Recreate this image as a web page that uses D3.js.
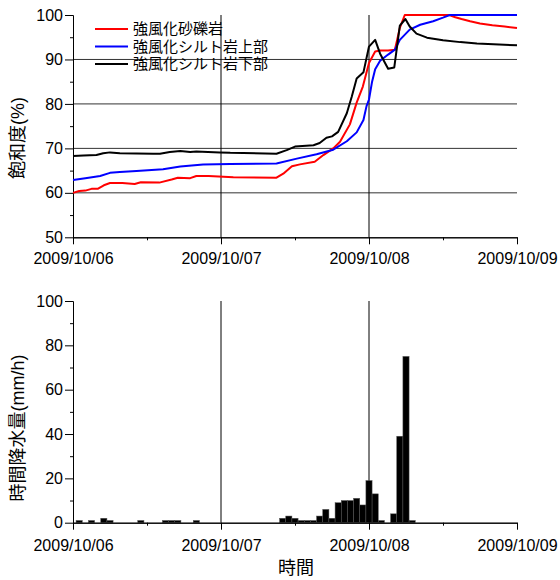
<!DOCTYPE html>
<html><head><meta charset="utf-8">
<script src="https://cdn.jsdelivr.net/npm/d3@7"></script>
<style>
body{margin:0;background:#fff}
text{font-family:"Liberation Sans",Arial,"Noto Sans CJK JP",sans-serif;fill:#000}
</style></head><body>
<svg id="chart" width="560" height="580"></svg>
<script>
// Day tick labels along both time axes
const dayLabels = ["2009/10/06", "2009/10/07", "2009/10/08", "2009/10/09"];
const saturationTicks = [50, 60, 70, 80, 90, 100];
const rainTicks = [0, 20, 40, 60, 80, 100];

// Legend names
const seriesNames = ["強風化砂礫岩", "強風化シルト岩上部", "強風化シルト岩下部"];

// Saturation (%) of each layer; hours counted from 2009/10/06 00:00
const gravelHours  = [0, 1, 2, 3, 4, 5, 6, 8, 10, 11, 14, 16, 17, 19, 20, 22, 26, 33, 34.1, 35.5, 36.8, 39.2, 40.6, 42.2, 43.3, 44.9, 46, 47, 48, 49, 49.8, 51.1, 52.2, 53, 53.8, 61, 62, 63, 64.4, 66, 68, 70, 72];
const gravelValues = [60.0, 60.4, 60.5, 60.9, 60.9, 61.7, 62.2, 62.2, 62.0, 62.4, 62.3, 63.0, 63.4, 63.3, 63.8, 63.8, 63.5, 63.4, 64.3, 66.0, 66.4, 67.0, 68.5, 70.0, 71.5, 75.4, 80.3, 83.9, 89.2, 91.8, 92.0, 92.0, 92.2, 97.1, 100, 100, 99.5, 99.1, 98.6, 98.1, 97.7, 97.4, 97.1];

const upperSiltHours  = [0, 2, 4.4, 6, 7.6, 10.3, 14.6, 17.4, 21.1, 25.5, 33, 36.3, 39.5, 42.2, 44.4, 46, 47.1, 47.6, 48, 48.5, 49, 49.8, 51.1, 52.2, 53, 54.6, 56.3, 58.4, 60, 61.1, 72];
const upperSiltValues = [62.9, 63.3, 63.8, 64.5, 64.7, 64.9, 65.3, 65.9, 66.4, 66.5, 66.6, 67.7, 68.7, 69.7, 71.6, 73.6, 76.4, 79.5, 81.0, 85.0, 87.8, 89.7, 91.1, 92.2, 94.4, 96.7, 97.8, 98.6, 99.4, 100, 100];

const lowerSiltHours  = [0, 1.7, 3.8, 4.9, 6, 7.6, 13, 14.1, 15.7, 17.4, 19, 20, 23.8, 25.5, 33, 34.65, 36, 39, 40, 41.1, 42, 43, 44.4, 45.2, 46, 47.1, 48, 49, 49.8, 51.1, 52.1, 53, 53.9, 54.6, 55.7, 57.4, 60, 62.8, 65.5, 68.2, 72];
const lowerSiltValues = [68.3, 68.4, 68.5, 68.9, 69.1, 68.9, 68.8, 68.8, 69.2, 69.4, 69.2, 69.3, 69.1, 69.0, 68.8, 69.6, 70.4, 70.7, 71.2, 72.4, 72.7, 73.7, 77.9, 81.6, 85.7, 87.1, 92.9, 94.4, 91.3, 87.9, 88.2, 97.6, 99.1, 97.4, 95.8, 94.9, 94.3, 93.9, 93.6, 93.4, 93.2];

// Hourly rainfall (mm/h); each bar is centred on its hour
const rainHours  = [1, 3, 5, 6, 11, 15, 16, 17, 20, 34, 35, 36, 37, 38, 39, 40, 41, 42, 43, 44, 45, 46, 47, 48, 49, 50, 52, 53, 54, 55];
const rainValues = [1, 1, 2, 1, 1, 1, 1, 1, 1, 2, 3, 2, 1, 1, 1, 3, 6, 2, 9, 10, 10, 11, 8, 19, 13, 1, 4, 39, 75, 1];

const start = new Date(2009, 9, 6);
const atHour = h => new Date(start.getTime() + h * 3600e3);
const dayDates = dayLabels.map((_, i) => atHour(i * 24));
const noonDates = [0, 1, 2].map(i => atHour(i * 24 + 12));

const svg = d3.select("#chart");
const x = d3.scaleTime().domain([atHour(0), atHour(72)]).range([73, 517]);

const ySat = d3.scaleLinear().domain([50, 100]).range([237.3, 15]);
const yRain = d3.scaleLinear().domain([0, 100]).range([522.7, 301]);

function styleAxis(g) {
  g.selectAll("path.domain").attr("stroke", "#000").attr("stroke-width", 1);
  g.selectAll(".tick line").attr("stroke", "#000");
  g.selectAll(".tick text").style("font-size", "16px").attr("fill", "#000");
}

// ---------- upper panel: degree of saturation ----------
const upper = svg.append("g");

upper.append("g").selectAll("line").data([60, 70, 80, 90]).join("line")
  .attr("x1", x.range()[0]).attr("x2", x.range()[1])
  .attr("y1", d => ySat(d)).attr("y2", d => ySat(d))
  .attr("stroke", "#333").attr("stroke-width", 1);

upper.append("g").selectAll("line").data(dayDates.slice(1, 3)).join("line")
  .attr("x1", d => x(d)).attr("x2", d => x(d))
  .attr("y1", ySat(100)).attr("y2", ySat(50))
  .attr("stroke", "#000");

upper.append("g").attr("transform", `translate(${x.range()[0]},0)`)
  .call(d3.axisLeft(ySat).tickValues(d3.range(55, 100, 10)).tickSize(3).tickSizeOuter(0).tickFormat(""))
  .call(styleAxis);
upper.append("g").attr("transform", `translate(${x.range()[0]},0)`)
  .call(d3.axisLeft(ySat).tickValues(saturationTicks).tickSize(8).tickSizeOuter(0).tickPadding(2))
  .call(styleAxis);

upper.append("g").attr("transform", `translate(0,${ySat(50)})`)
  .call(d3.axisBottom(x).tickValues(noonDates).tickSize(3).tickSizeOuter(0).tickFormat(""))
  .call(styleAxis);
upper.append("g").attr("transform", `translate(0,${ySat(50)})`)
  .call(d3.axisBottom(x).tickValues(dayDates).tickSize(7).tickSizeOuter(0).tickPadding(8)
    .tickFormat((d, i) => dayLabels[i]))
  .call(styleAxis);

const series = [
  { hours: gravelHours, values: gravelValues, color: "#ff0000" },
  { hours: upperSiltHours, values: upperSiltValues, color: "#0000ff" },
  { hours: lowerSiltHours, values: lowerSiltValues, color: "#000000" }
];
const line = d3.line().x(d => x(atHour(d[0]))).y(d => ySat(d[1]));
series.forEach(s => {
  upper.append("path")
    .datum(s.hours.map((h, i) => [h, s.values[i]]))
    .attr("fill", "none").attr("stroke", s.color).attr("stroke-width", 2)
    .attr("stroke-linejoin", "round")
    .attr("d", line);
});

// legend
const legend = upper.append("g");
series.forEach((s, i) => {
  const ly = 29 + i * 17.5;
  legend.append("line").attr("x1", 95).attr("x2", 128).attr("y1", ly).attr("y2", ly)
    .attr("stroke", s.color).attr("stroke-width", 2);
  legend.append("text").attr("x", 133).attr("y", ly).attr("dy", "0.36em")
    .style("font-size", "15px").text(seriesNames[i]);
});

upper.append("text")
  .attr("transform", "translate(18,138) rotate(-90)")
  .attr("text-anchor", "middle").attr("dy", "0.36em")
  .style("font-size", "18px").text("飽和度(%)");

// ---------- lower panel: hourly rainfall ----------
const lower = svg.append("g");

lower.append("g").selectAll("line").data(dayDates.slice(1, 3)).join("line")
  .attr("x1", d => x(d)).attr("x2", d => x(d))
  .attr("y1", yRain(100)).attr("y2", yRain(0))
  .attr("stroke", "#000");

lower.append("g").selectAll("rect")
  .data(rainHours.map((h, i) => [h, rainValues[i]]))
  .join("rect")
  .attr("x", d => x(atHour(d[0] - 0.5)))
  .attr("width", d => x(atHour(d[0] + 0.5)) - x(atHour(d[0] - 0.5)))
  .attr("y", d => yRain(d[1]))
  .attr("height", d => yRain(0) - yRain(d[1]))
  .attr("fill", "#000").attr("stroke", "#555").attr("stroke-width", 0.5);

lower.append("g").attr("transform", `translate(${x.range()[0]},0)`)
  .call(d3.axisLeft(yRain).tickValues(d3.range(10, 100, 20)).tickSize(3).tickSizeOuter(0).tickFormat(""))
  .call(styleAxis);
lower.append("g").attr("transform", `translate(${x.range()[0]},0)`)
  .call(d3.axisLeft(yRain).tickValues(rainTicks).tickSize(8).tickSizeOuter(0).tickPadding(2))
  .call(styleAxis);

lower.append("g").attr("transform", `translate(0,${yRain(0)})`)
  .call(d3.axisBottom(x).tickValues(noonDates).tickSize(3).tickSizeOuter(0).tickFormat(""))
  .call(styleAxis);
lower.append("g").attr("transform", `translate(0,${yRain(0)})`)
  .call(d3.axisBottom(x).tickValues(dayDates).tickSize(7).tickSizeOuter(0).tickPadding(10)
    .tickFormat((d, i) => dayLabels[i]))
  .call(styleAxis);

lower.append("text")
  .attr("transform", "translate(18,428) rotate(-90)")
  .attr("text-anchor", "middle").attr("dy", "0.36em")
  .style("font-size", "18px").text("時間降水量(mm/h)");

lower.append("text")
  .attr("x", 296).attr("y", 574)
  .attr("text-anchor", "middle")
  .style("font-size", "18px").text("時間");
</script>
</body></html>
